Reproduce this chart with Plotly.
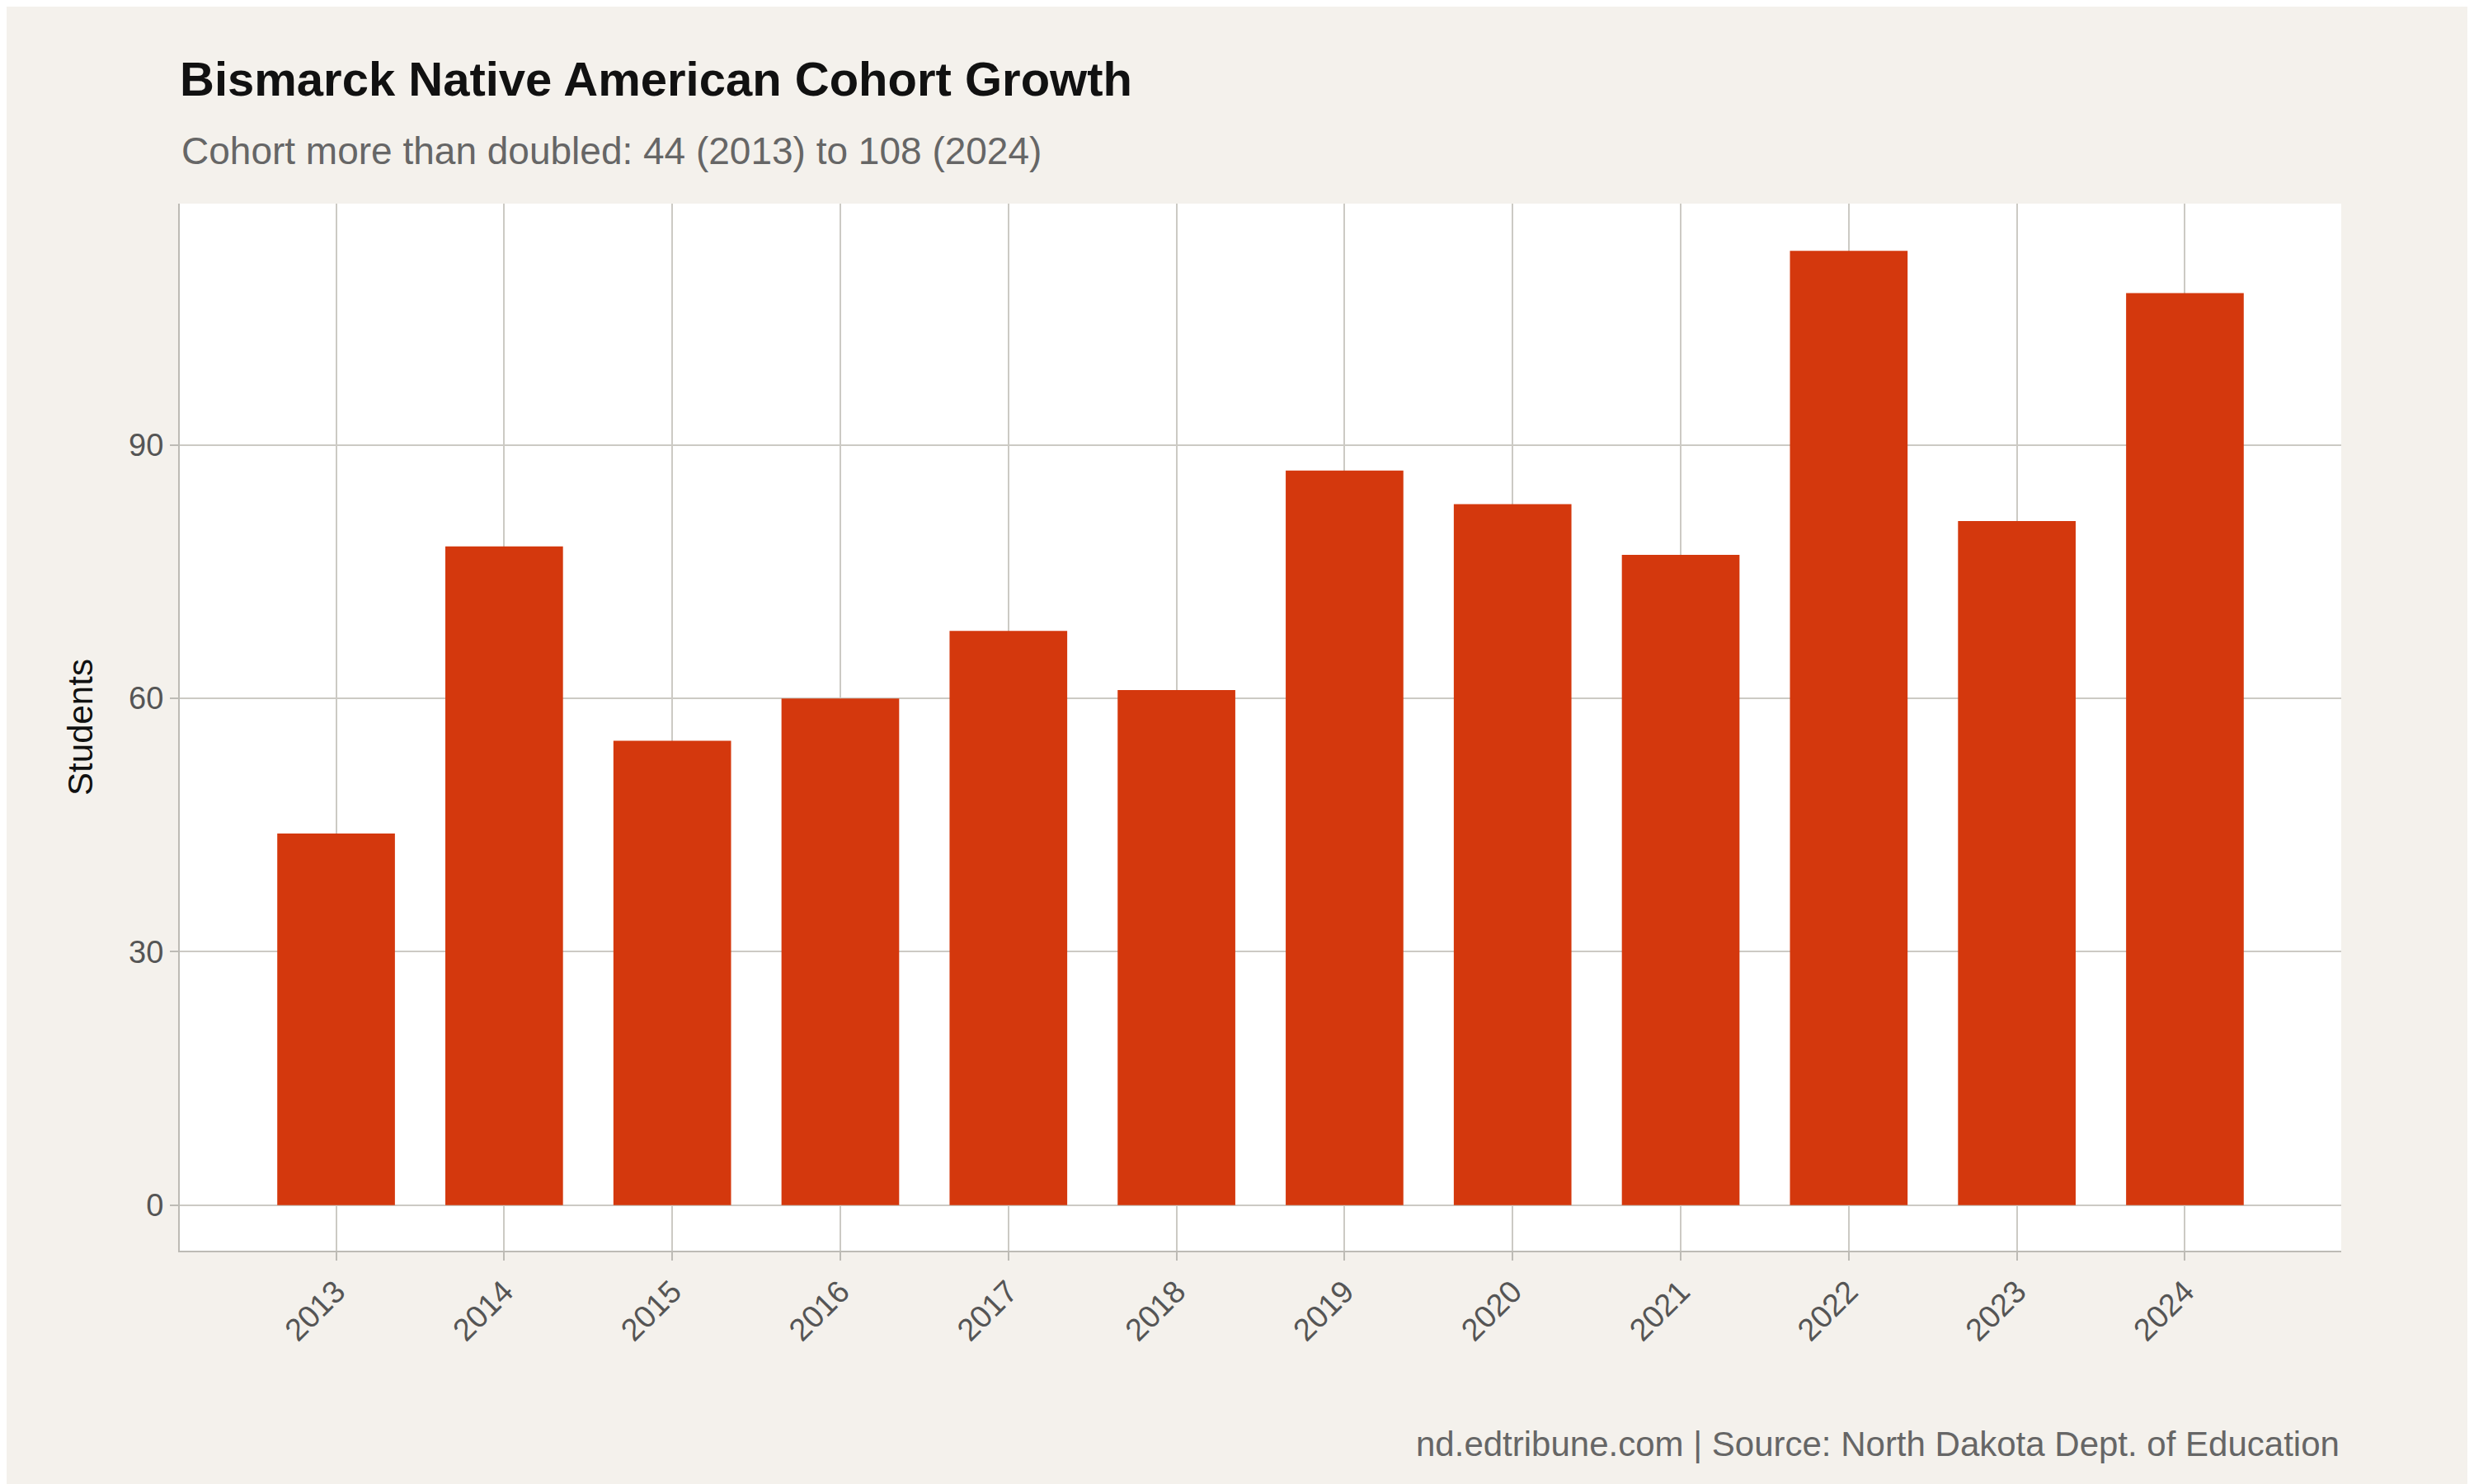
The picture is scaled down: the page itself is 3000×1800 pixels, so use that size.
import plotly.graph_objects as go

years = [2013, 2014, 2015, 2016, 2017, 2018, 2019, 2020, 2021, 2022, 2023, 2024]
students = [44, 78, 55, 60, 68, 61, 87, 83, 77, 113, 81, 108]
y_ticks = [0, 30, 60, 90]

fig = go.Figure(go.Bar(x=years, y=students, width=0.7, marker=dict(color="#d4380d", line_width=0)))

fig.update_layout(
    width=3000, height=1800,
    paper_bgcolor="#f4f1ec", plot_bgcolor="white",
    font=dict(family="Liberation Sans, Arial, sans-serif", color="#666"),
    margin=dict(l=210, r=169, t=239, b=291),
    showlegend=False,
    title=dict(text="<b>Bismarck Native American Cohort Growth</b>", x=210/3000, xanchor="left",
               y=1 - 88/1800, yanchor="middle", font=dict(size=58, color="#111")),
    annotations=[
        dict(text="Cohort more than doubled: 44 (2013) to 108 (2024)", xref="paper", yref="paper",
             x=0, y=1 + 64/1270, xanchor="left", yanchor="middle", showarrow=False,
             font=dict(size=46, color="#666")),
        dict(text="nd.edtribune.com | Source: North Dakota Dept. of Education", xref="paper", yref="paper",
             x=1, y=-(1743 - 1509)/1270, xanchor="right", yanchor="middle", showarrow=False,
             font=dict(size=42, color="#666")),
    ],
)
fig.update_xaxes(range=[2013 - 0.93, 2024 + 0.93], tickvals=years, tickangle=-45,
                 showgrid=True, gridcolor="#cccac4", gridwidth=2,
                 showline=True, linecolor="#bdbbb5", linewidth=2,
                 ticks="outside", ticklen=10, tickcolor="#bdbbb5", tickwidth=2,
                 tickfont=dict(size=38, color="#555"), zeroline=False)
fig.update_yaxes(range=[-5.4, 118.6], tickvals=y_ticks,
                 showgrid=True, gridcolor="#cccac4", gridwidth=2,
                 showline=True, linecolor="#bdbbb5", linewidth=2,
                 ticks="outside", ticklen=10, tickcolor="#bdbbb5", tickwidth=2,
                 tickfont=dict(size=38, color="#555"), zeroline=False,
                 title=dict(text="Students", font=dict(size=42, color="#111"), standoff=30))

fig.write_html("out.html")
